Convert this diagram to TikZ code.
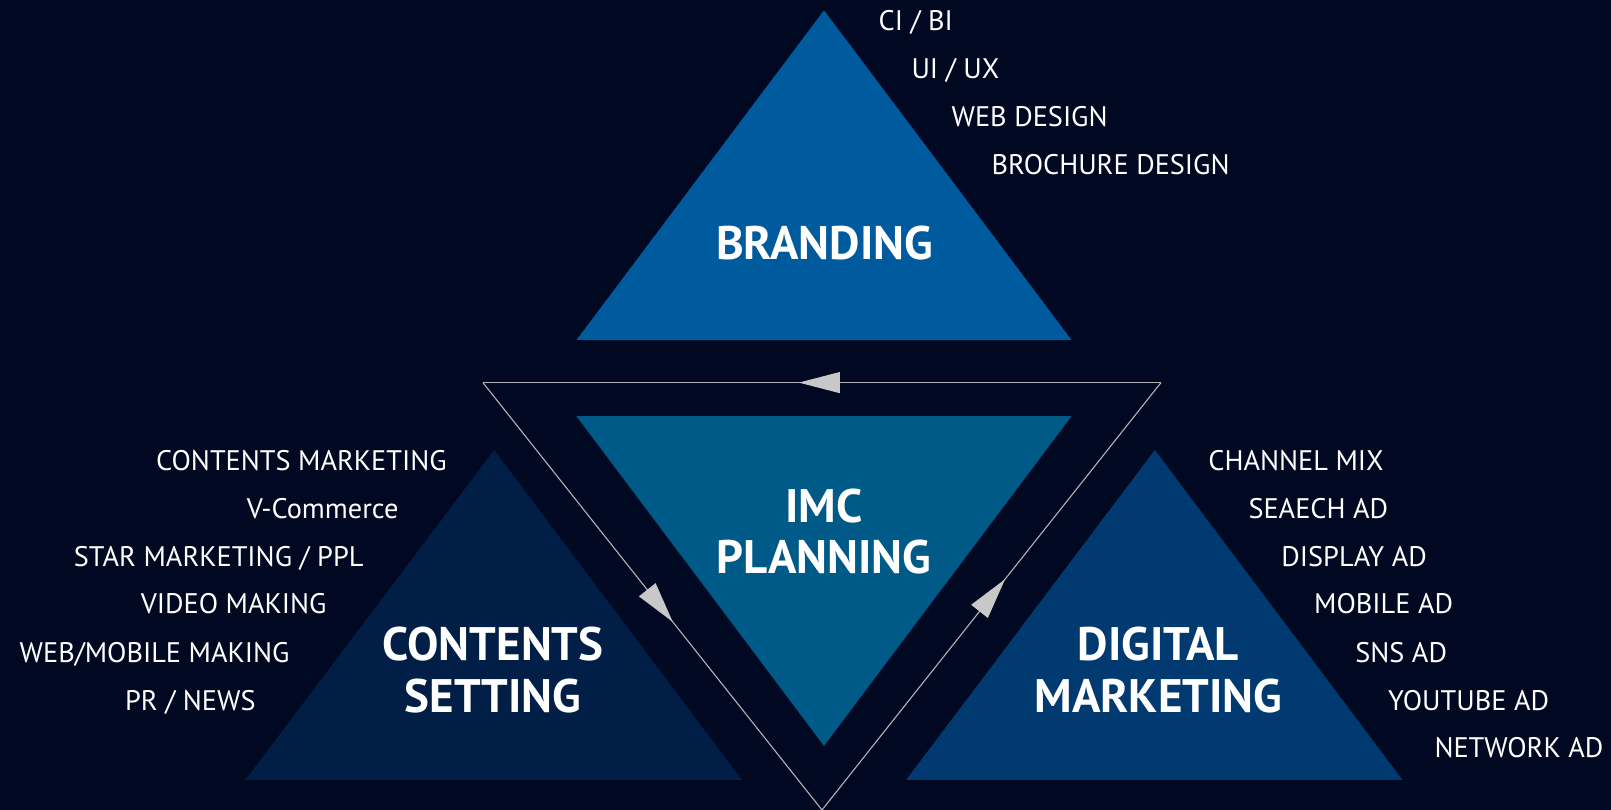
\documentclass[tikz,border=0pt]{standalone}
\usepackage{fontspec}
\setmainfont{PT Sans}
\usetikzlibrary{arrows.meta,decorations.markings}
\definecolor{bgcol}{HTML}{000822}
\definecolor{brandcol}{HTML}{005A9E}
\definecolor{imccol}{HTML}{005A87}
\definecolor{contcol}{HTML}{001E46}
\definecolor{digicol}{HTML}{003A70}
\definecolor{linecol}{HTML}{B4B4B4}
\definecolor{tipcol}{HTML}{C8C8C8}
\tikzset{
  lbl/.style={text=white,inner sep=0pt,font=\fontsize{28.3}{32}\selectfont},
  lblL/.style={lbl,anchor=base west},
  lblR/.style={lbl,anchor=base east},
  title/.style={text=white,inner sep=0pt,align=center,font=\bfseries\fontsize{47}{51.5}\selectfont},
  cyc/.style={draw=linecol,line width=1.1pt,postaction={decorate},
    decoration={markings,mark=at position #1 with {\arrow{Triangle[length=41pt,width=21pt,color=tipcol]}}}}
}
\begin{document}
\begin{tikzpicture}[x=1pt,y=-1pt]
\fill[bgcol] (0,0) rectangle (1611,810);
\useasboundingbox (0,0) rectangle (1611,810);
% coordinates
\coordinate (bA) at (824,10.3);
\coordinate (bL) at (576.4,340.1);
\coordinate (bR) at (1071.6,340.1);
\coordinate (iL) at (576.4,416.1);
\coordinate (iR) at (1071.6,416.1);
\coordinate (iB) at (824,745.9);
\coordinate (cA) at (494.2,450);
\coordinate (cL) at (245.5,779.8);
\coordinate (cR) at (741.8,779.8);
\coordinate (dA) at (1154.8,450);
\coordinate (dL) at (906.2,779.8);
\coordinate (dR) at (1402.4,779.8);
\coordinate (oL) at (482.9,382.6);
\coordinate (oR) at (1161,382.6);
\coordinate (oB) at (822,810);
% triangles
\fill[brandcol] (bA) -- (bL) -- (bR) -- cycle;
\fill[imccol] (iL) -- (iR) -- (iB) -- cycle;
\fill[contcol] (cA) -- (cL) -- (cR) -- cycle;
\fill[digicol] (dA) -- (dL) -- (dR) -- cycle;
% cycle connectors
\draw[cyc=0.534] (oR) -- (oL);
\draw[cyc=0.56] (oL) -- (oB);
\draw[cyc=0.54] (oB) -- (oR);
% titles
\node[title] (tb) at (824.5,243.5) {BRANDING};
\node[title] (ti) at (824,531.5) {IMC\\PLANNING};
\node[title] (tc) at (493.1,670) {CONTENTS\\SETTING};
\node[title] (td) at (1158.4,670) {DIGITAL\\MARKETING};
% branding labels
\node[lblL] (b1) at (878.4,30.3) {CI / BI};
\node[lblL] (b2) at (911.3,78.6) {UI / UX};
\node[lblL] (b3) at (951.4,126.9) {WEB DESIGN};
\node[lblL] (b4) at (991.4,174.2) {BROCHURE DESIGN};
% contents labels
\node[lblR] (c1) at (446.9,470.1) {CONTENTS MARKETING};
\node[lblR] (c2) at (398.6,518.4) {V-Commerce};
\node[lblR] (c3) at (363.7,566.6) {STAR MARKETING / PPL};
\node[lblR] (c4) at (326.7,613.9) {VIDEO MAKING};
\node[lblR] (c5) at (289.7,662.2) {WEB/MOBILE MAKING};
\node[lblR] (c6) at (255.8,710.5) {PR / NEWS};
% digital labels
\node[lblL] (d1) at (1208.2,470.1) {CHANNEL MIX};
\node[lblL] (d2) at (1248.3,518.4) {SEAECH AD};
\node[lblL] (d3) at (1281.2,566.6) {DISPLAY AD};
\node[lblL] (d4) at (1314.0,613.9) {MOBILE AD};
\node[lblL] (d5) at (1355.1,662.2) {SNS AD};
\node[lblL] (d6) at (1388.0,710.5) {YOUTUBE AD};
\node[lblL] (d7) at (1434.3,757.7) {NETWORK AD};
\end{tikzpicture}
\end{document}
